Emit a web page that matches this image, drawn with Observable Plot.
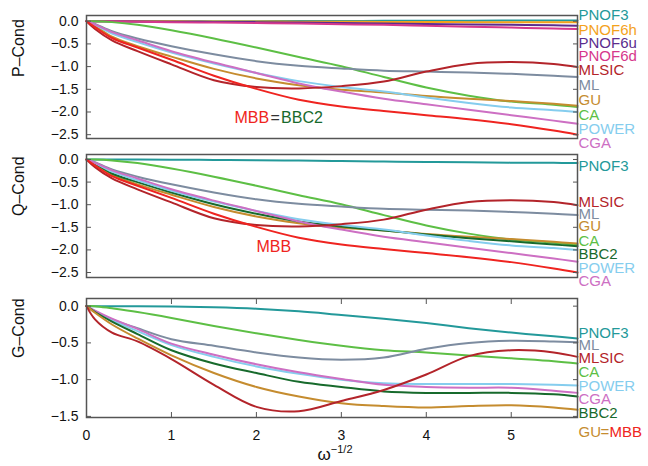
<!DOCTYPE html>
<html><head><meta charset="utf-8">
<script src="https://cdn.jsdelivr.net/npm/d3@7"></script>
<script src="https://cdn.jsdelivr.net/npm/@observablehq/plot@0.6"></script>
<style>
body{margin:0;background:#fff;}
#chart{position:relative;width:648px;height:466px;font-family:"Liberation Sans",Arial,sans-serif;}
#chart svg{position:absolute;left:0;overflow:visible;}
#xtitle{position:absolute;left:285px;width:100px;top:443px;text-align:center;font-size:17px;color:#111;}
#xtitle sup{font-size:11px;}
</style>
</head><body>
<div id="chart"><div id="xtitle">ω<sup>−1/2</sup></div></div>
<script>
// x grid (ω^-1/2)
const omega = [0, 0.1, 0.3, 0.6, 1.0, 1.5, 2.0, 2.5, 3.0, 3.5, 4.0, 4.5, 5.0, 5.5, 5.78];

// P-Cond
const PNOF3_P  = [0,0,0,0,0,0,0,0.005,0.005,0.01,0.01,0.01,0.015,0.015,0.015];
const PNOF6h_P = [0,0,0,0,0,-0.005,-0.005,-0.01,-0.01,-0.015,-0.015,-0.02,-0.02,-0.02,-0.02];
const PNOF6u_P = [0,0,0,-0.005,-0.01,-0.015,-0.02,-0.03,-0.04,-0.05,-0.06,-0.07,-0.08,-0.09,-0.1];
const PNOF6d_P = [0,0,0,-0.01,-0.02,-0.03,-0.04,-0.05,-0.065,-0.08,-0.1,-0.12,-0.14,-0.16,-0.17];
const MLSIC_P  = [0,-0.17,-0.42,-0.66,-0.95,-1.3,-1.45,-1.48,-1.43,-1.33,-1.11,-0.94,-0.9,-0.94,-1.01];
const ML_P     = [0,-0.06,-0.22,-0.38,-0.55,-0.73,-0.88,-0.98,-1.04,-1.09,-1.11,-1.13,-1.16,-1.2,-1.23];
const GU_P     = [0,-0.1,-0.34,-0.55,-0.78,-1.05,-1.26,-1.41,-1.51,-1.57,-1.65,-1.71,-1.76,-1.82,-1.86];
const CA_P     = [0,0,-0.02,-0.08,-0.2,-0.38,-0.58,-0.79,-0.99,-1.23,-1.46,-1.64,-1.77,-1.84,-1.89];
const POWER_P  = [0,-0.08,-0.27,-0.46,-0.69,-0.93,-1.14,-1.32,-1.45,-1.55,-1.68,-1.8,-1.9,-1.96,-2.0];
const CGA_P    = [0,-0.07,-0.24,-0.42,-0.66,-0.91,-1.14,-1.37,-1.55,-1.71,-1.83,-1.95,-2.07,-2.19,-2.26];
const MBB_P    = [0,-0.13,-0.37,-0.58,-0.85,-1.2,-1.49,-1.73,-1.88,-1.98,-2.07,-2.16,-2.27,-2.41,-2.5];

// Q-Cond (other series coincide with P-Cond)
const PNOF3_Q  = [0,0,0,0,-0.005,-0.01,-0.015,-0.025,-0.035,-0.045,-0.055,-0.06,-0.07,-0.075,-0.08];
const BBC2_Q   = [0,-0.09,-0.31,-0.5,-0.73,-0.99,-1.2,-1.37,-1.48,-1.57,-1.66,-1.74,-1.81,-1.88,-1.92];

// G-Cond
const PNOF3_G  = [0,0,0,0,-0.005,-0.015,-0.035,-0.07,-0.12,-0.17,-0.23,-0.3,-0.36,-0.41,-0.44];
const ML_G     = [0,-0.07,-0.18,-0.3,-0.45,-0.54,-0.63,-0.7,-0.73,-0.7,-0.58,-0.5,-0.47,-0.48,-0.49];
const MLSIC_G  = [0,-0.18,-0.36,-0.48,-0.72,-1.07,-1.37,-1.43,-1.29,-1.14,-0.93,-0.68,-0.6,-0.63,-0.69];
const CA_G     = [0,0,-0.03,-0.08,-0.16,-0.27,-0.37,-0.46,-0.54,-0.6,-0.63,-0.67,-0.71,-0.75,-0.78];
const POWER_G  = [0,-0.07,-0.19,-0.34,-0.53,-0.69,-0.82,-0.92,-1.0,-1.05,-1.06,-1.06,-1.06,-1.07,-1.08];
const CGA_G    = [0,-0.06,-0.17,-0.31,-0.51,-0.66,-0.79,-0.9,-0.99,-1.07,-1.1,-1.11,-1.11,-1.15,-1.18];
const BBC2_G   = [0,-0.08,-0.21,-0.38,-0.6,-0.78,-0.91,-1.03,-1.1,-1.16,-1.18,-1.18,-1.18,-1.2,-1.23];
const GU_G     = [0,-0.09,-0.25,-0.44,-0.67,-0.91,-1.1,-1.23,-1.32,-1.36,-1.38,-1.36,-1.35,-1.38,-1.41];

const methodNames  = ["PNOF3","PNOF6h","PNOF6u","PNOF6d","MLSIC","ML","GU","CA","POWER","CGA","MBB","BBC2"];
const methodColors = ["#23999a","#f4a21c","#5b2d8e","#d6388c","#b3242a","#7d8ca0","#c58c2f","#5dbf45","#85cdee","#cd6fc3","#ef2420","#176a2c"];

const yTicksPQ = [0, -0.5, -1, -1.5, -2, -2.5];
const yTicksG  = [0, -0.5, -1, -1.5];
const xTicks   = [0, 1, 2, 3, 4, 5];
const xDomain  = [0, 5.78];

const panels = [
  { title: "P–Cond", top: 0, mt: 15, h: 123, mb: 10, y: [-2.584, 0.126], yt: yTicksPQ, xaxis: false,
    lines: [["PNOF3",PNOF3_P],["PNOF6h",PNOF6h_P],["PNOF6u",PNOF6u_P],["PNOF6d",PNOF6d_P],["CA",CA_P],["ML",ML_P],
            ["GU",GU_P],["POWER",POWER_P],["CGA",CGA_P],["MLSIC",MLSIC_P],["MBB",MBB_P]],
    labels: [["PNOF3",0.126],["PNOF6h",-0.2],["PNOF6u",-0.485],["PNOF6d",-0.78],["MLSIC",-1.085],["ML",-1.42],
             ["GU",-1.73],["CA",-2.06],["POWER",-2.37],["CGA",-2.69]],
    inner: { x: 2.22, y: -2.13, parts: [["MBB","#ef2420","end",-6],["=","#333","middle",0],["BBC2","#176a2c","start",6]] },
    right: null },
  { title: "Q–Cond", top: 144, mt: 10, h: 123, mb: 10, y: [-2.61, 0.11], yt: yTicksPQ, xaxis: false,
    lines: [["PNOF3",PNOF3_Q],["CA",CA_P],["ML",ML_P],["GU",GU_P],["BBC2",BBC2_Q],["POWER",POWER_P],["CGA",CGA_P],
            ["MLSIC",MLSIC_P],["MBB",MBB_P]],
    labels: [["PNOF3",-0.147],["MLSIC",-0.936],["ML",-1.206],["GU",-1.485],["CA",-1.81],["BBC2",-2.105],
             ["POWER",-2.41],["CGA",-2.69]],
    inner: { x: 2.205, y: -1.923, parts: [["MBB","#ef2420","middle",0]] },
    right: null },
  { title: "G–Cond", top: 288, mt: 10, h: 119, mb: 49, y: [-1.515, 0.104], yt: yTicksG, xaxis: true,
    lines: [["PNOF3",PNOF3_G],["CA",CA_G],["ML",ML_G],["POWER",POWER_G],["CGA",CGA_G],["BBC2",BBC2_G],
            ["GU",GU_G],["MLSIC",MLSIC_G]],
    labels: [["PNOF3",-0.365],["ML",-0.531],["MLSIC",-0.711],["CA",-0.892],["POWER",-1.085],["CGA",-1.265],
             ["BBC2",-1.454]],
    inner: null,
    right: { y: -1.716, parts: [["GU","#c58c2f",1],["=","#c58c2f",23],["MBB","#ef2420",32]] } }
];

const chart = document.getElementById("chart");
const frameColor = "#555";
const labelSize = 15;

for (const p of panels) {
  const data = p.lines.flatMap(([name, vals]) => vals.map((v, i) => ({ name, x: omega[i], y: v })));
  const labelRows = p.labels.map(([name, at]) => ({ name, at }));
  const marks = [
    Plot.line(data, { x: "x", y: "y", z: "name", stroke: "name", strokeWidth: 2, curve: "catmull-rom" }),
    Plot.frame({ stroke: frameColor, strokeWidth: 1.5 }),
    Plot.axisY(p.yt, { anchor: "left", tickSize: -5, tickPadding: 13, tickFormat: d3.format(".1f"),
                       fontSize: 14, stroke: frameColor, fill: "#111", label: null }),
    Plot.axisY(p.yt, { anchor: "right", tickSize: -5, tickFormat: () => "", stroke: frameColor, label: null }),
    Plot.text([p.title], { frameAnchor: "left", dx: -68, rotate: -90, fontSize: 16, fill: "#111" }),
    Plot.text(labelRows, { frameAnchor: "right", y: "at", text: "name", fill: "name", textAnchor: "start",
                           dx: 1, fontSize: labelSize })
  ];
  if (p.xaxis) {
    marks.push(
      Plot.axisX(xTicks, { anchor: "bottom", tickSize: -5, tickPadding: 18, fontSize: 14, stroke: frameColor,
                           fill: "#111", label: null }),
      Plot.axisX(xTicks, { anchor: "top", tickSize: -5, tickFormat: () => "", stroke: frameColor, label: null })
    );
  }
  if (p.inner) {
    for (const [t, c, anchor, dx] of p.inner.parts) {
      marks.push(Plot.text([t], { x: () => p.inner.x, y: () => p.inner.y, text: d => d, fill: c,
                                  textAnchor: anchor, dx, fontSize: 16 }));
    }
  }
  if (p.right) {
    for (const [t, c, dx] of p.right.parts) {
      marks.push(Plot.text([t], { frameAnchor: "right", y: () => p.right.y, text: d => d, fill: c,
                                  textAnchor: "start", dx, fontSize: labelSize }));
    }
  }
  const svg = Plot.plot({
    width: 648,
    height: p.mt + p.h + p.mb,
    marginLeft: 86, marginRight: 71, marginTop: p.mt, marginBottom: p.mb,
    x: { domain: xDomain, axis: p.xaxis ? undefined : null },
    y: { domain: p.y },
    color: { domain: methodNames, range: methodColors },
    style: { fontFamily: "'Liberation Sans', Arial, sans-serif", background: "transparent", overflow: "visible" },
    marks
  });
  svg.style.top = p.top + "px";
  chart.appendChild(svg);
}
</script>
</body></html>
